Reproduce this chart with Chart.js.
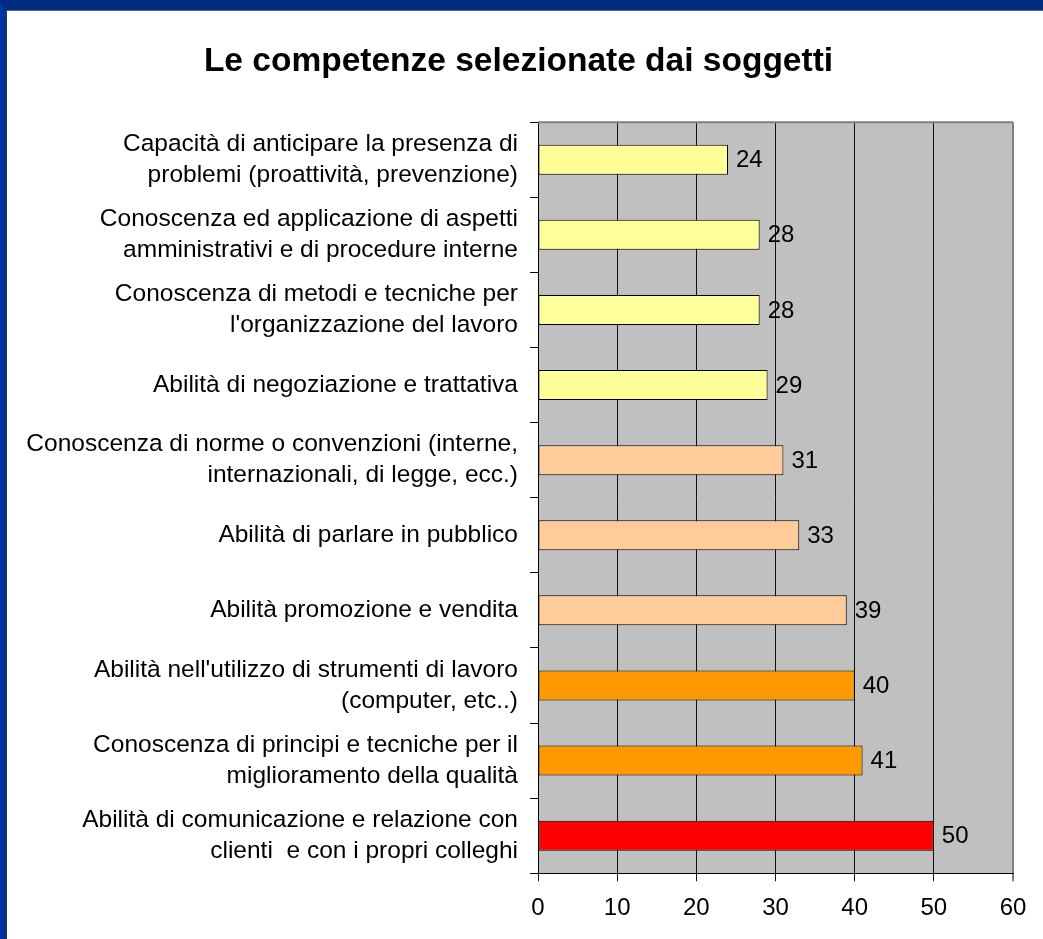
<!DOCTYPE html>
<html>
<head>
<meta charset="utf-8">
<script src="https://cdn.jsdelivr.net/npm/chart.js@4/dist/chart.umd.min.js"></script>
<style>
  html, body { margin: 0; padding: 0; background: #fff; }
  #frame {
    position: absolute; left: 0; top: 0; width: 1043px; height: 939px;
    box-sizing: border-box; border-top: 10px solid #002C80; border-left: 6px solid #0033A0;
  }
  #edge { position: absolute; left: 6px; top: 10px; width: 1037px; height: 929px; box-sizing: border-box; border-top: 1px solid #666; border-left: 1px solid #333; }
  #wrap { position: absolute; left: 6px; top: 10px; width: 1037px; height: 929px; }
</style>
</head>
<body>
<div id="frame"></div>
<div id="edge"></div>
<div id="wrap"><canvas id="chart-skills"></canvas></div>
<script>
var labels = [
    ["Capacità di anticipare la presenza di", "problemi (proattività, prevenzione)"],
    ["Conoscenza ed applicazione di aspetti", "amministrativi e di procedure interne"],
    ["Conoscenza di metodi e tecniche per", "l'organizzazione del lavoro"],
    "Abilità di negoziazione e trattativa",
    ["Conoscenza di norme o convenzioni (interne,", "internazionali, di legge, ecc.)"],
    "Abilità di parlare in pubblico",
    "Abilità promozione e vendita",
    ["Abilità nell'utilizzo di strumenti di lavoro", "(computer, etc..)"],
    ["Conoscenza di principi e tecniche per il", "miglioramento della qualità"],
    ["Abilità di comunicazione e relazione con", "clienti  e con i propri colleghi"]
];
var values = [24, 28, 28, 29, 31, 33, 39, 40, 41, 50];
var barColors = ["#FFFF99", "#FFFF99", "#FFFF99", "#FFFF99", "#FFCC99", "#FFCC99", "#FFCC99", "#FF9900", "#FF9900", "#FF0000"];
var xTicks = [0, 10, 20, 30, 40, 50, 60];

var font = "'Liberation Sans', Arial, sans-serif";

var plotBackground = {
    id: 'plotBackground',
    beforeDraw: function (chart) {
        var a = chart.chartArea, c = chart.ctx;
        c.save();
        c.fillStyle = '#C0C0C0';
        c.fillRect(a.left, a.top, a.right - a.left, a.bottom - a.top);
        c.restore();
    },
    afterDatasetsDraw: function (chart) {
        var a = chart.chartArea, c = chart.ctx;
        c.save();
        c.strokeStyle = '#808080';
        c.lineWidth = 2;
        c.beginPath();
        c.moveTo(a.left, a.top);
        c.lineTo(a.right, a.top);
        c.stroke();
        // value labels
        c.fillStyle = '#000';
        c.font = '24px ' + font;
        c.textBaseline = 'middle';
        c.textAlign = 'left';
        chart.getDatasetMeta(0).data.forEach(function (bar, i) {
            c.fillText(String(values[i]), bar.x + 8, bar.y + 1);
        });
        c.restore();
    }
};

var ctx = document.getElementById('chart-skills');
new Chart(ctx, {
    type: 'bar',
    data: {
        labels: labels,
        datasets: [{
            data: values,
            backgroundColor: barColors,
            borderColor: '#000',
            borderWidth: 1,
            borderSkipped: false,
            categoryPercentage: 0.4,
            barPercentage: 1
        }]
    },
    options: {
        indexAxis: 'y',
        responsive: true,
        maintainAspectRatio: false,
        animation: false,
        layout: { padding: { left: 18, right: 30, top: 0, bottom: 3 } },
        plugins: {
            legend: { display: false },
            tooltip: { enabled: false },
            title: {
                display: true,
                text: 'Le competenze selezionate dai soggetti',
                color: '#000',
                font: { family: font, size: 33.5, weight: 'bold', lineHeight: 1.2 },
                padding: { top: 32, bottom: 40 }
            }
        },
        scales: {
            x: {
                min: 0,
                max: 60,
                afterBuildTicks: function (scale) {
                    scale.ticks = xTicks.map(function (v) { return { value: v }; });
                },
                grid: {
                    color: function (c) { return c.tick && c.tick.value === 60 ? '#808080' : '#111'; },
                    lineWidth: function (c) { return c.tick && c.tick.value === 60 ? 2 : 1; },
                    tickLength: 8
                },
                border: { color: '#000', width: 1 },
                ticks: { color: '#000', font: { family: font, size: 24 }, padding: 13 }
            },
            y: {
                afterFit: function (scale) { scale.width = 514; },
                grid: {
                    drawOnChartArea: false,
                    color: '#000',
                    tickLength: 8,
                    offset: true
                },
                border: { color: '#000', width: 1 },
                ticks: {
                    color: '#000',
                    font: { family: font, size: 24.5, lineHeight: 1.26 },
                    padding: 12,
                    autoSkip: false
                }
            }
        }
    },
    plugins: [plotBackground]
});
</script>
</body>
</html>
